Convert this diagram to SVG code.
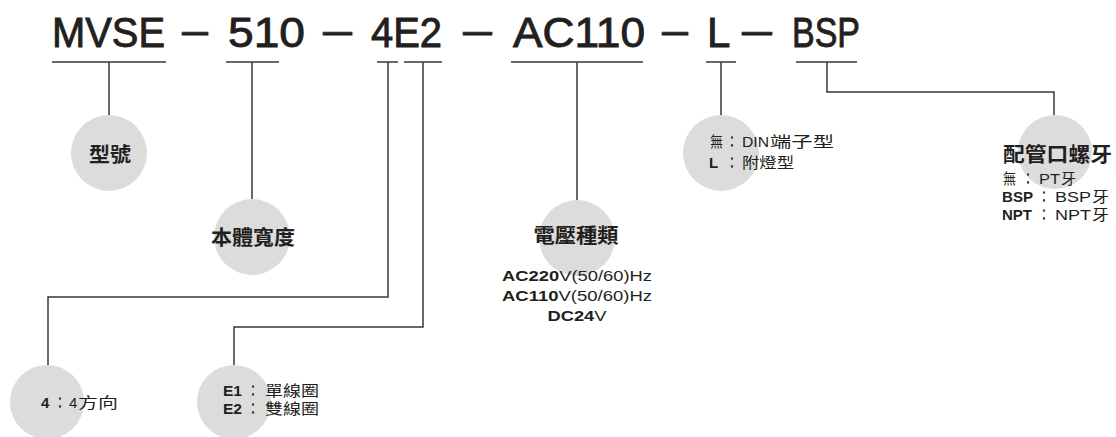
<svg xmlns="http://www.w3.org/2000/svg" width="1116" height="437" viewBox="0 0 1116 437">
<style>
.ln{fill:none;stroke:#3a3634;stroke-width:1.5}
.c{fill:#dcdcdc}
.tt{font-family:"Liberation Sans","Noto Sans CJK TC",sans-serif;font-size:42px;fill:#231f20;stroke:#231f20;stroke-width:0.9}
.h{font-family:"Noto Sans CJK TC",sans-serif;font-size:20px;font-weight:bold;fill:#231f20}
.n{font-family:"Liberation Sans","Noto Sans CJK TC",sans-serif;font-size:15px;fill:#231f20}
.v{font-family:"Liberation Sans",sans-serif;font-size:15px;fill:#231f20}
.b{font-weight:bold}
</style>
<rect width="1116" height="437" fill="#ffffff"/>
<g id="title">
<text class="tt" x="52" y="47" textLength="113" lengthAdjust="spacingAndGlyphs">MVSE</text>
<text class="tt" x="182" y="44" textLength="26" lengthAdjust="spacingAndGlyphs">—</text>
<text class="tt" x="228" y="47" textLength="77" lengthAdjust="spacingAndGlyphs">510</text>
<text class="tt" x="323" y="44" textLength="29" lengthAdjust="spacingAndGlyphs">—</text>
<text class="tt" x="371" y="47" textLength="71" lengthAdjust="spacingAndGlyphs">4E2</text>
<text class="tt" x="463" y="44" textLength="29" lengthAdjust="spacingAndGlyphs">—</text>
<text class="tt" x="513" y="47" textLength="132" lengthAdjust="spacingAndGlyphs">AC110</text>
<text class="tt" x="662" y="44" textLength="26" lengthAdjust="spacingAndGlyphs">—</text>
<text class="tt" x="707" y="47">L</text>
<text class="tt" x="742" y="44" textLength="30" lengthAdjust="spacingAndGlyphs">—</text>
<text class="tt" x="792" y="47" textLength="68" lengthAdjust="spacingAndGlyphs">BSP</text>
</g>
<g id="connectors" class="ln">
<path d="M52,62H166M109,62V115"/>
<path d="M226,62H279M252,62V199"/>
<path d="M377,62H398M388,62V297H48V365"/>
<path d="M404,62H442M423,62V327H234V365"/>
<path d="M511,62H643M577,62V200"/>
<path d="M706,62H736M721,62V115"/>
<path d="M796,62H857M827,62V92H1054V115"/>
</g>
<g id="node-model">
<circle class="c" cx="109" cy="153" r="38"/>
<text class="h" x="110" y="162" text-anchor="middle" textLength="42" lengthAdjust="spacingAndGlyphs">型號</text>
</g>
<g id="node-width">
<circle class="c" cx="252" cy="237" r="38"/>
<text class="h" x="253" y="245" text-anchor="middle" textLength="84" lengthAdjust="spacingAndGlyphs">本體寬度</text>
</g>
<g id="node-voltage">
<circle class="c" cx="577" cy="238" r="38"/>
<text class="h" x="576" y="243" text-anchor="middle" textLength="85" lengthAdjust="spacingAndGlyphs">電壓種類</text>
<text class="v" x="577" y="281" text-anchor="middle" textLength="150" lengthAdjust="spacingAndGlyphs"><tspan class="b">AC220</tspan>V(50/60)Hz</text>
<text class="v" x="577" y="301" text-anchor="middle" textLength="150" lengthAdjust="spacingAndGlyphs"><tspan class="b">AC110</tspan>V(50/60)Hz</text>
<text class="v" x="577" y="321" text-anchor="middle" textLength="59" lengthAdjust="spacingAndGlyphs"><tspan class="b">DC24</tspan>V</text>
</g>
<g id="node-lamp">
<circle class="c" cx="721" cy="153" r="38"/>
<text class="n" y="147"><tspan x="710" textLength="13" lengthAdjust="spacingAndGlyphs">無</tspan><tspan x="727" class="b" textLength="10" lengthAdjust="spacingAndGlyphs">：</tspan><tspan x="742" textLength="27" lengthAdjust="spacingAndGlyphs">DIN</tspan><tspan x="770" textLength="64" lengthAdjust="spacingAndGlyphs">端子型</tspan></text>
<text class="n" y="168"><tspan x="709" class="b">L</tspan><tspan x="727" class="b" textLength="10" lengthAdjust="spacingAndGlyphs">：</tspan><tspan x="742" textLength="52" lengthAdjust="spacingAndGlyphs">附燈型</tspan></text>
</g>
<g id="node-thread">
<circle class="c" cx="1055" cy="152" r="37"/>
<text class="h" x="1003" y="162" textLength="109" lengthAdjust="spacingAndGlyphs">配管口螺牙</text>
<text class="n" y="184"><tspan x="1003" textLength="13" lengthAdjust="spacingAndGlyphs">無</tspan><tspan x="1023" class="b" textLength="10" lengthAdjust="spacingAndGlyphs">：</tspan><tspan x="1039" textLength="21" lengthAdjust="spacingAndGlyphs">PT</tspan><tspan x="1061" textLength="15" lengthAdjust="spacingAndGlyphs">牙</tspan></text>
<text class="n" y="202"><tspan x="1002" class="b" textLength="31" lengthAdjust="spacingAndGlyphs">BSP</tspan><tspan x="1039" class="b" textLength="10" lengthAdjust="spacingAndGlyphs">：</tspan><tspan x="1055" textLength="36" lengthAdjust="spacingAndGlyphs">BSP</tspan><tspan x="1092" textLength="17" lengthAdjust="spacingAndGlyphs">牙</tspan></text>
<text class="n" y="220"><tspan x="1002" class="b" textLength="30" lengthAdjust="spacingAndGlyphs">NPT</tspan><tspan x="1039" class="b" textLength="10" lengthAdjust="spacingAndGlyphs">：</tspan><tspan x="1055" textLength="36" lengthAdjust="spacingAndGlyphs">NPT</tspan><tspan x="1092" textLength="17" lengthAdjust="spacingAndGlyphs">牙</tspan></text>
</g>
<g id="node-direction">
<circle class="c" cx="47" cy="402" r="37"/>
<text class="n" y="408"><tspan x="41" class="b">4</tspan><tspan x="55" class="b" textLength="10" lengthAdjust="spacingAndGlyphs">：</tspan><tspan x="69">4</tspan><tspan x="78" textLength="40" lengthAdjust="spacingAndGlyphs">方向</tspan></text>
</g>
<g id="node-coil">
<circle class="c" cx="234" cy="402" r="37"/>
<text class="n" y="396"><tspan x="223" class="b" textLength="19" lengthAdjust="spacingAndGlyphs">E1</tspan><tspan x="248" class="b" textLength="10" lengthAdjust="spacingAndGlyphs">：</tspan><tspan x="265" textLength="54" lengthAdjust="spacingAndGlyphs">單線圈</tspan></text>
<text class="n" y="414"><tspan x="223" class="b" textLength="19" lengthAdjust="spacingAndGlyphs">E2</tspan><tspan x="248" class="b" textLength="10" lengthAdjust="spacingAndGlyphs">：</tspan><tspan x="265" textLength="54" lengthAdjust="spacingAndGlyphs">雙線圈</tspan></text>
</g>
</svg>
